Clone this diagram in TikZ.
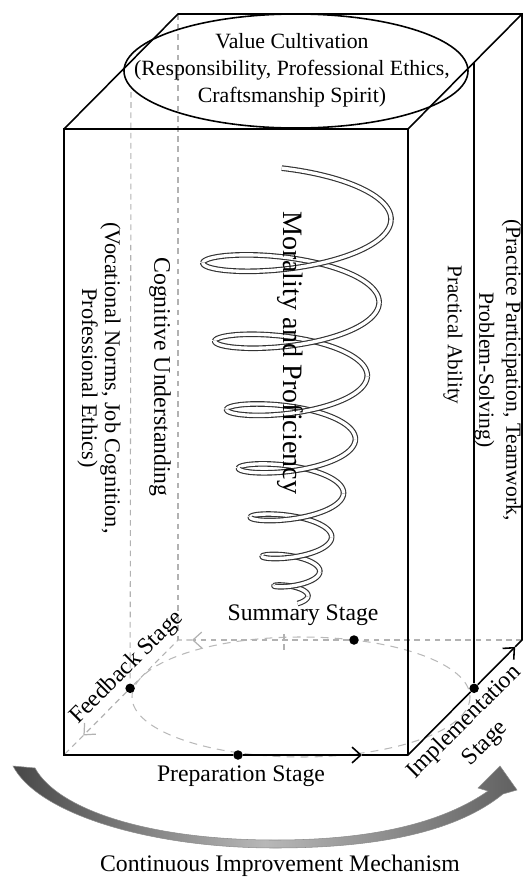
\documentclass[tikz,border=0pt]{standalone}
\usepackage{fontspec}
\setmainfont{Liberation Serif}
\usetikzlibrary{shapes.geometric,arrows.meta,calc}

\tikzstyle{boxline} = [line width=0.9pt, draw=black]
\tikzstyle{hiddenedge} = [line width=0.6pt, draw=gray!60, dash pattern=on 3.2pt off 2.6pt]
\tikzstyle{cycleline} = [line width=0.6pt, draw=gray!55, dash pattern=on 4.5pt off 3.5pt]
\tikzstyle{stagedot} = [circle, fill=black, inner sep=0pt, minimum size=0.19cm]
\tikzstyle{stagelabel} = [inner sep=1pt, font=\fontsize{13.5}{15}\selectfont]
\tikzstyle{dimlabel} = [rotate=-90, align=center, inner sep=1pt]
\tikzstyle{valuetext} = [inner sep=0pt, align=center, font=\fontsize{12.4}{15.4}\selectfont]
\tikzstyle{tube} = [line width=0.65pt, draw=black!80, double=white, double distance=1.9pt]
\tikzstyle{stagearrow} = [line width=0.9pt, -{Straight Barb[length=5pt,width=9pt]}]
\tikzstyle{greyarrow} = [line width=0.7pt, draw=gray!60, -{Straight Barb[length=5pt,width=9pt]}]

\begin{document}
\begin{tikzpicture}[x=0.02cm, y=-0.02cm, node distance=0.42cm]
\useasboundingbox (0,0) rectangle (530,880);

\coordinate (FTL) at (64,129);
\coordinate (FTR) at (408,129);
\coordinate (FBL) at (64,755);
\coordinate (FBR) at (408,755);
\coordinate (BTL) at (178,14);
\coordinate (BTR) at (522,14);
\coordinate (BBL) at (178,640);
\coordinate (BBR) at (522,640);
\coordinate (feedTop) at (131,92);
\coordinate (implTop) at ($(FTR)!0.58!(BTR)$);
\coordinate (prepTip) at (362,755);
\coordinate (summTip) at (192,640);
\coordinate (feedTip) at ($(BBL)!0.83!(FBL)$);
\coordinate (implTip) at ($(FBR)!0.94!(BBR)$);

\draw[cycleline] (301,697) ellipse [x radius=169, y radius=60];

\node (prep) [stagedot] at (238,755) {};
\node (feed) [stagedot] at ($(FBL)!0.58!(BBL)$) {};
\node (summ) [stagedot] at (354,640) {};
\node (impl) [stagedot] at ($(FBR)!0.58!(BBR)$) {};

\draw[hiddenedge] (BTL) -- (BBL);
\draw[hiddenedge] (feedTop) -- (feed);
\draw[hiddenedge] (284,634) -- (284,650);
\draw[hiddenedge] (BBR) -- (summ);
\draw[hiddenedge, greyarrow] (summ) -- (summTip);
\draw[hiddenedge] (summTip) -- (BBL) -- (feed);
\draw[hiddenedge, greyarrow] (feed) -- (feedTip);
\draw[hiddenedge] (feedTip) -- (FBL);

\draw[boxline] (FBR) -- (FTR) -- (FTL) -- (FBL) -- (prep);
\draw[stagearrow] (prep) -- (prepTip);
\draw[boxline] (prepTip) -- (FBR) -- (impl);
\draw[stagearrow] (impl) -- (implTip);
\draw[boxline] (implTip) -- (BBR) -- (BTR) -- (BTL) -- (FTL);
\draw[boxline] (FTR) -- (BTR);
\draw[boxline] (implTop) -- (impl);

% helix: back halves first, front halves over them
\draw[tube] plot[domain=-97:0, samples=30, variable=\t]
  ({294+(97-0.033*\t)*cos(\t)}, {220+0.2442*\t-4.87*(\t/360)*(\t/360)+0.28*(97-0.033*\t)*sin(\t)});
\foreach \k [evaluate=\k as \ta using 360*\k-180, evaluate=\k as \tb using 360*\k] in {1,...,7}
  \draw[tube] plot[domain=\ta:\tb, samples=50, variable=\t]
    ({294+(97-0.033*\t)*cos(\t)}, {220+0.2442*\t-4.87*(\t/360)*(\t/360)+0.28*(97-0.033*\t)*sin(\t)});
\foreach \k [evaluate=\k as \ta using 360*\k, evaluate=\k as \tb using {min(360*\k+180,2592)}] in {0,...,7}
  \draw[tube] plot[domain=\ta:\tb, samples=50, variable=\t]
    ({294+(97-0.033*\t)*cos(\t)}, {220+0.2442*\t-4.87*(\t/360)*(\t/360)+0.28*(97-0.033*\t)*sin(\t)});

\node (value) [valuetext] at (292,70) {Value Cultivation\\(Responsibility, Professional Ethics,\\Craftsmanship Spirit)};
\draw[boxline] (296,71) ellipse [x radius=172, y radius=57];
\node (moral) [dimlabel, font=\fontsize{16}{19}\selectfont] at (290,353) {Morality and Proficiency};
\node (cogn) [dimlabel, font=\fontsize{13.5}{15}\selectfont] at (160,377) {Cognitive Understanding};
\node (cognsub) [dimlabel, font=\fontsize{12.7}{13}\selectfont] at (99,378) {(Vocational Norms, Job Cognition,\\Professional Ethics)};
\node (prac) [dimlabel, font=\fontsize{12}{14}\selectfont] at (453,335) {Practical Ability};
\node (pracsub) [dimlabel, font=\fontsize{12.3}{15.4}\selectfont] at (498,370) {(Practice Participation, Teamwork,\\Problem-Solving)};

\node (summlabel) [stagelabel] at (303,615) {Summary Stage};
\node (preplabel) [stagelabel, below of = prep, xshift=0.06cm] {Preparation Stage};
\node (feedlabel) [stagelabel, rotate=45] at (127,668) {Feedback Stage};
\node (impllabel) [stagelabel, rotate=45, align=center, font=\fontsize{13.5}{17}\selectfont] at (475,733) {Implementation\\Stage};

\shade[left color=black!72, right color=black!62, middle color=black!28, draw=black!45, line width=0.3pt]
  (13,766) .. controls (38,814) and (150,848) .. (275,848)
  .. controls (400,848) and (466,824) .. (503,794)
  -- (517,790) -- (500,766) -- (478,788) -- (488,791)
  .. controls (452,816) and (390,840) .. (275,840)
  .. controls (150,840) and (58,810) .. (35,768) -- cycle;
\node (mech) [stagelabel] at (280,866) {Continuous Improvement Mechanism};
\end{tikzpicture}
\end{document}
